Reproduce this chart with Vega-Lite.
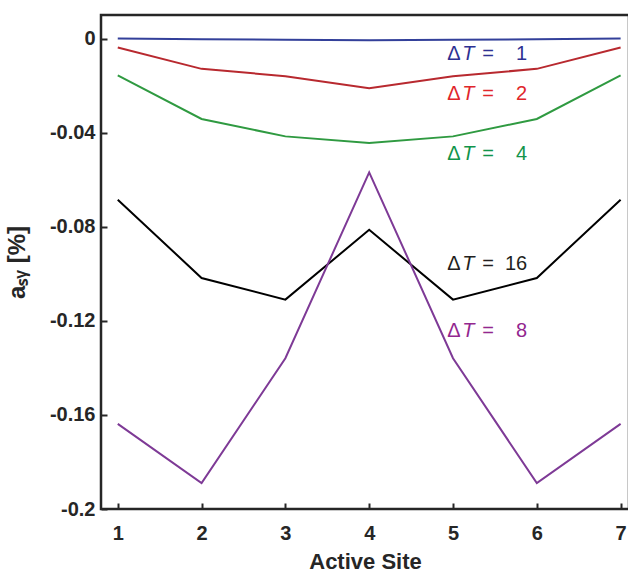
{
  "$schema": "https://vega.github.io/schema/vega-lite/v6.json",
  "width": 528,
  "height": 494,
  "autosize": {"type": "none"},
  "padding": {"left": 101, "top": 15, "right": 0, "bottom": 67},
  "background": "white",
  "config": {
    "view": {"stroke": "#262626", "strokeWidth": 2.5},
    "axis": {
      "grid": false,
      "domain": false,
      "tickColor": "#262626",
      "tickWidth": 2,
      "tickSize": 6,
      "offset": -6,
      "labelFont": "Liberation Sans",
      "labelFontWeight": "bold",
      "labelFontSize": 20,
      "labelColor": "#262626",
      "titleFont": "Liberation Sans",
      "titleFontWeight": "bold",
      "titleFontSize": 22,
      "titleColor": "#262626"
    }
  },
  "datasets": {
    "lines": [
      {"site": 1, "dT": "1", "val": 0}, {"site": 2, "dT": "1", "val": -0.0003}, {"site": 3, "dT": "1", "val": -0.0005}, {"site": 4, "dT": "1", "val": -0.0007}, {"site": 5, "dT": "1", "val": -0.0005}, {"site": 6, "dT": "1", "val": -0.0003}, {"site": 7, "dT": "1", "val": 0},
      {"site": 1, "dT": "2", "val": -0.0038}, {"site": 2, "dT": "2", "val": -0.0129}, {"site": 3, "dT": "2", "val": -0.016}, {"site": 4, "dT": "2", "val": -0.0211}, {"site": 5, "dT": "2", "val": -0.016}, {"site": 6, "dT": "2", "val": -0.0129}, {"site": 7, "dT": "2", "val": -0.0038},
      {"site": 1, "dT": "4", "val": -0.0157}, {"site": 2, "dT": "4", "val": -0.0342}, {"site": 3, "dT": "4", "val": -0.0416}, {"site": 4, "dT": "4", "val": -0.0444}, {"site": 5, "dT": "4", "val": -0.0416}, {"site": 6, "dT": "4", "val": -0.0342}, {"site": 7, "dT": "4", "val": -0.0157},
      {"site": 1, "dT": "16", "val": -0.0685}, {"site": 2, "dT": "16", "val": -0.1018}, {"site": 3, "dT": "16", "val": -0.111}, {"site": 4, "dT": "16", "val": -0.0813}, {"site": 5, "dT": "16", "val": -0.111}, {"site": 6, "dT": "16", "val": -0.1018}, {"site": 7, "dT": "16", "val": -0.0685},
      {"site": 1, "dT": "8", "val": -0.1638}, {"site": 2, "dT": "8", "val": -0.189}, {"site": 3, "dT": "8", "val": -0.1359}, {"site": 4, "dT": "8", "val": -0.0569}, {"site": 5, "dT": "8", "val": -0.1359}, {"site": 6, "dT": "8", "val": -0.189}, {"site": 7, "dT": "8", "val": -0.1638}
    ],
    "labels": [
      {"dT": "1", "x": 4.93, "y": -0.0092, "num": "1"},
      {"dT": "2", "x": 4.93, "y": -0.026, "num": "2"},
      {"dT": "4", "x": 4.93, "y": -0.0515, "num": "4"},
      {"dT": "16", "x": 4.93, "y": -0.0983, "num": "16"},
      {"dT": "8", "x": 4.93, "y": -0.1267, "num": "8"}
    ]
  },
  "resolve": {"scale": {"color": "independent"}},
  "layer": [
    {
      "data": {"name": "lines"},
      "mark": {"type": "line", "strokeWidth": 2},
      "encoding": {
        "x": {
          "field": "site", "type": "quantitative",
          "scale": {"domain": [0.8, 7.1], "nice": false, "zero": false},
          "axis": {"orient": "bottom", "values": [1, 2, 3, 4, 5, 6, 7], "format": "d", "title": "Active Site", "labelPadding": 14, "titlePadding": 8}
        },
        "y": {
          "field": "val", "type": "quantitative",
          "scale": {"domain": [-0.2, 0.01], "nice": false, "zero": false},
          "axis": {"values": [0, -0.04, -0.08, -0.12, -0.16, -0.2], "labelExpr": "'' + datum.value", "title": "aₛᵧ [%]", "titleFontSize": 24, "labelPadding": 6, "titlePadding": 20}
        },
        "color": {
          "field": "dT", "type": "nominal",
          "scale": {"domain": ["1", "2", "4", "16", "8"], "range": ["#33409a", "#b8292f", "#2f9a41", "#000000", "#7e3a96"]},
          "legend": null
        }
      }
    },
    {
      "data": {"name": "labels"},
      "encoding": {
        "x": {"field": "x", "type": "quantitative"},
        "y": {"field": "y", "type": "quantitative"},
        "color": {
          "field": "dT", "type": "nominal",
          "scale": {"domain": ["1", "2", "4", "16", "8"], "range": ["#2e3192", "#e0262b", "#12944a", "#231f20", "#93278f"]},
          "legend": null
        }
      },
      "layer": [
        {"mark": {"type": "text", "text": "Δ", "align": "left", "baseline": "alphabetic", "font": "Liberation Sans", "fontSize": 20}},
        {"mark": {"type": "text", "text": "T", "align": "left", "baseline": "alphabetic", "font": "Liberation Sans", "fontStyle": "italic", "fontSize": 20, "dx": 15}},
        {"mark": {"type": "text", "text": "=", "align": "left", "baseline": "alphabetic", "font": "Liberation Sans", "fontSize": 20, "dx": 35}},
        {"mark": {"type": "text", "align": "right", "baseline": "alphabetic", "font": "Liberation Sans", "fontSize": 20, "dx": 80}, "encoding": {"text": {"field": "num"}}}
      ]
    }
  ]
}
